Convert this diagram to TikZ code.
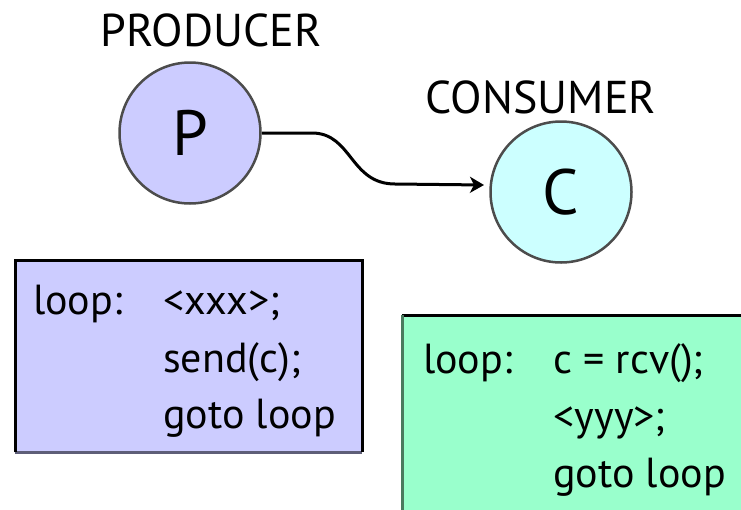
\documentclass[tikz,border=0pt]{standalone}
\usepackage{fontspec}
\setmainfont{PT Sans}
\usetikzlibrary{arrows.meta}
\definecolor{prodfill}{HTML}{CCCCFF}
\definecolor{consfill}{HTML}{CCFFFF}
\definecolor{prodbox}{HTML}{CCCCFF}
\definecolor{consbox}{HTML}{99FFCC}
\definecolor{consedge}{HTML}{4A7A5E}
\definecolor{shadeedge}{HTML}{5E5E78}
\tikzset{
  proc/.style={circle, draw=black!70, line width=2.5pt, minimum size=141pt, inner sep=0pt,
               font=\fontsize{64}{64}\selectfont},
  title/.style={font=\fontsize{46}{46}\selectfont},
  code/.style={anchor=base west, inner sep=0pt, font=\fontsize{42}{42}\selectfont},
  flow/.style={line width=3pt, -{Stealth[length=14pt,width=16pt,inset=4pt]}}
}
\begin{document}
\begin{tikzpicture}[x=1pt,y=-1pt]
\useasboundingbox (0,0) rectangle (741,509);
\clip (0,0) rectangle (741,509);

% process circles and their names
\node[proc, fill=prodfill] (P) at (190,133) {P};
\node[proc, fill=consfill] (C) at (561,192) {C};
\node[title] (ptitle) at (211,30) {PRODUCER};
\node[title] (ctitle) at (541,97) {CONSUMER};

% message flow from producer to consumer
\coordinate (tip) at (484,185);
\draw[flow] (P.east) -- (312,133) .. controls (352,133) and (350,184) .. (395,184) -- (tip);

% producer program
\fill[prodbox] (15,260) rectangle (362,452);
\draw[line width=3pt, shadeedge] (15,452) -- (362,452);
\draw[line width=3pt, line join=miter] (15,452) -- (15,260) -- (362,260) -- (362,452);
\node[code] (pl) at (33,314) {loop:};
\node[code] (p1) at (163,314) {<xxx>;};
\node[code] (p2) at (163,372) {send(c);};
\node[code] (p3) at (163,428) {goto loop};

% consumer program
\fill[consbox] (402,315) rectangle (760,530);
\draw[line width=3pt] (760,315) -- (402,315);
\draw[line width=3pt, consedge] (402,315) -- (402,530);
\node[code] (cl) at (423,373) {loop:};
\node[code] (c1) at (553,373) {c = rcv();};
\node[code] (c2) at (553,430) {<yyy>;};
\node[code] (c3) at (553,487) {goto loop};
\end{tikzpicture}
\end{document}
